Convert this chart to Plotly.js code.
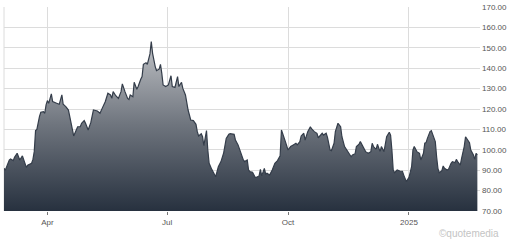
<!DOCTYPE html>
<html>
<head>
<meta charset="utf-8">
<script src="https://cdn.plot.ly/plotly-3.0.1.min.js"></script>
<style>
  html, body { margin: 0; padding: 0; background: #ffffff; }
  #chart { width: 507px; height: 240px; }
</style>
</head>
<body>
<div id="chart"></div>
<script>
const dates = [
  "2024-02-28","2024-02-29","2024-03-03","2024-03-04","2024-03-06","2024-03-07","2024-03-09","2024-03-10",
  "2024-03-11","2024-03-13","2024-03-14","2024-03-16","2024-03-17","2024-03-20","2024-03-21","2024-03-22",
  "2024-03-23","2024-03-24","2024-03-26","2024-03-27","2024-03-29","2024-03-30","2024-03-31","2024-04-01",
  "2024-04-02","2024-04-04","2024-04-05","2024-04-07","2024-04-08","2024-04-10","2024-04-12","2024-04-13",
  "2024-04-15","2024-04-17","2024-04-19","2024-04-21","2024-04-24","2024-04-26","2024-04-27","2024-04-29",
  "2024-04-30","2024-05-02","2024-05-04","2024-05-06","2024-05-09","2024-05-11","2024-05-13","2024-05-15",
  "2024-05-17","2024-05-19","2024-05-20","2024-05-21","2024-05-23","2024-05-25","2024-05-27","2024-05-28",
  "2024-05-30","2024-06-01","2024-06-02","2024-06-03","2024-06-05","2024-06-06","2024-06-08","2024-06-09",
  "2024-06-11","2024-06-12","2024-06-13","2024-06-15","2024-06-16","2024-06-18","2024-06-19","2024-06-20",
  "2024-06-22","2024-06-23","2024-06-25","2024-06-26","2024-06-27","2024-06-28","2024-06-30","2024-07-02",
  "2024-07-04","2024-07-05","2024-07-07","2024-07-09","2024-07-10","2024-07-12","2024-07-13","2024-07-15",
  "2024-07-17","2024-07-19","2024-07-21","2024-07-23","2024-07-24","2024-07-25","2024-07-27","2024-07-28",
  "2024-07-29","2024-07-31","2024-08-01","2024-08-02","2024-08-04","2024-08-07","2024-08-09","2024-08-11",
  "2024-08-13","2024-08-15","2024-08-17","2024-08-18","2024-08-21","2024-08-22","2024-08-24","2024-08-26",
  "2024-08-28","2024-08-29","2024-08-31","2024-09-01","2024-09-02","2024-09-04","2024-09-06","2024-09-07",
  "2024-09-09","2024-09-10","2024-09-11","2024-09-13","2024-09-14","2024-09-15","2024-09-17","2024-09-19",
  "2024-09-21","2024-09-23","2024-09-25","2024-09-26","2024-09-27","2024-09-29","2024-10-01","2024-10-03",
  "2024-10-05","2024-10-07","2024-10-08","2024-10-10","2024-10-11","2024-10-13","2024-10-14","2024-10-16",
  "2024-10-18","2024-10-19","2024-10-21","2024-10-23","2024-10-24","2024-10-26","2024-10-27","2024-10-28",
  "2024-10-30","2024-10-31","2024-11-02","2024-11-03","2024-11-05","2024-11-06","2024-11-08","2024-11-10",
  "2024-11-11","2024-11-13","2024-11-15","2024-11-16","2024-11-18","2024-11-19","2024-11-21","2024-11-22",
  "2024-11-24","2024-11-25","2024-11-27","2024-11-29","2024-12-01","2024-12-03","2024-12-04","2024-12-05",
  "2024-12-07","2024-12-08","2024-12-10","2024-12-11","2024-12-13","2024-12-15","2024-12-17","2024-12-18",
  "2024-12-19","2024-12-20","2024-12-21","2024-12-23","2024-12-25","2024-12-27","2024-12-28","2024-12-30",
  "2025-01-01","2025-01-03","2025-01-04","2025-01-05","2025-01-07","2025-01-09","2025-01-10","2025-01-12",
  "2025-01-13","2025-01-14","2025-01-15","2025-01-17","2025-01-18","2025-01-19","2025-01-21","2025-01-22",
  "2025-01-23","2025-01-24","2025-01-26","2025-01-27","2025-01-28","2025-01-30","2025-01-31","2025-02-02",
  "2025-02-03","2025-02-05","2025-02-06","2025-02-07","2025-02-09","2025-02-10","2025-02-12","2025-02-13",
  "2025-02-15","2025-02-16","2025-02-17","2025-02-19","2025-02-20","2025-02-21","2025-02-22"
];

const prices = [
  90.9, 90.0, 95.0, 95.5, 94.7, 96.3, 98.3, 96.1,
  95.0, 97.0, 95.0, 91.4, 92.5, 93.4, 95.3, 99.1,
  109.4, 110.0, 116.4, 118.4, 118.7, 117.9, 122.0, 124.1,
  122.8, 127.4, 123.6, 123.3, 122.8, 122.3, 126.9, 122.3,
  121.2, 119.5, 113.0, 106.8, 111.3, 111.3, 113.0, 114.3,
  113.0, 109.7, 113.3, 119.5, 119.0, 117.9, 120.8, 123.6,
  127.7, 126.9, 125.2, 128.5, 126.5, 125.2, 128.5, 132.3,
  128.5, 125.2, 124.7, 126.9, 126.0, 133.1, 129.7, 131.0,
  134.6, 135.9, 141.9, 142.7, 141.9, 147.0, 153.0, 147.3,
  140.8, 138.8, 139.5, 141.9, 137.5, 131.8, 131.0, 131.8,
  136.3, 131.0, 130.6, 135.9, 131.0, 133.1, 130.1, 126.9,
  119.5, 114.6, 114.3, 112.5, 108.9, 106.8, 107.9, 106.4,
  102.0, 109.4, 99.9, 93.4, 90.4, 86.8, 91.7, 94.2,
  98.3, 105.6, 107.6, 107.9, 107.6, 104.8, 102.4, 98.3,
  95.0, 94.2, 95.0, 90.1, 89.3, 89.0, 86.5, 86.5,
  87.2, 90.4, 87.2, 90.9, 88.1, 88.5, 87.6, 90.1,
  93.4, 94.7, 97.1, 109.7, 108.1, 104.0, 99.9, 101.6,
  102.4, 103.2, 102.4, 104.0, 106.8, 108.1, 104.8, 108.9,
  111.3, 110.2, 108.9, 108.1, 105.9, 107.2, 108.1, 107.2,
  108.1, 106.1, 99.9, 99.6, 103.2, 108.9, 113.0, 111.3,
  106.4, 101.6, 99.6, 98.3, 96.6, 97.5, 98.0, 101.6,
  102.8, 104.0, 101.6, 99.1, 98.3, 99.1, 103.2, 101.6,
  100.2, 102.7, 99.1, 101.6, 99.1, 106.4, 108.6, 107.2,
  99.9, 90.1, 88.8, 90.1, 89.6, 89.5, 87.6, 84.4,
  86.5, 91.7, 99.9, 101.6, 99.1, 98.3, 95.0, 98.3,
  103.2, 103.5, 105.6, 108.9, 109.4, 107.2, 104.0, 96.6,
  90.9, 88.8, 89.8, 92.1, 90.9, 90.1, 90.4, 93.4,
  94.2, 93.7, 95.3, 94.2, 92.5, 95.8, 101.6, 106.4,
  104.8, 103.5, 99.9, 97.5, 95.3, 98.3, 97.5
];

const xTickDates = ["2024-04-01", "2024-07-01", "2024-10-01", "2025-01-01"];
const xTickLabels = ["Apr", "Jul", "Oct", "2025"];
const yTickValues = [70, 80, 90, 100, 110, 120, 130, 140, 150, 160, 170];

const trace = {
  type: "scatter",
  mode: "lines",
  x: dates,
  y: prices,
  line: { color: "#343d4a", width: 1.2 },
  fill: "tozeroy",
  fillgradient: {
    type: "vertical",
    start: 70,
    stop: 155,
    colorscale: [[0, "#27313f"], [0.5, "#6f757e"], [1, "#c3c5c9"]]
  },
  hoverinfo: "skip"
};

const layout = {
  width: 507,
  height: 240,
  margin: { l: 4, r: 27, t: 7, b: 29, pad: 0 },
  paper_bgcolor: "#ffffff",
  plot_bgcolor: "#ffffff",
  showlegend: false,
  font: { family: "Liberation Sans, Arial, sans-serif", size: 8, color: "#555555" },
  xaxis: {
    type: "date",
    range: ["2024-02-28", "2025-02-24"],
    tickmode: "array",
    tickvals: xTickDates,
    ticktext: xTickLabels,
    showgrid: true,
    gridcolor: "#dcdcdc",
    gridwidth: 1,
    ticks: "outside",
    ticklen: 3,
    tickcolor: "#777777",
    tickfont: { size: 8, color: "#555555" },
    showline: false,
    zeroline: false,
    fixedrange: true
  },
  yaxis: {
    side: "right",
    range: [70, 170],
    tickmode: "array",
    tickvals: yTickValues,
    tickformat: ".2f",
    showgrid: true,
    gridcolor: "#dcdcdc",
    gridwidth: 1,
    ticks: "",
    ticklabelstandoff: 1,
    tickfont: { size: 8, color: "#555555" },
    showline: false,
    zeroline: false,
    fixedrange: true
  },
  shapes: [
    { type: "line", xref: "paper", yref: "paper", x0: 0, x1: 0, y0: 0, y1: 1,
      line: { color: "#dcdcdc", width: 1 }, layer: "below" }
  ],
  annotations: [
    {
      text: "©quotemedia",
      xref: "paper", yref: "paper",
      x: 1.044, y: -0.108,
      xanchor: "right", yanchor: "middle",
      showarrow: false,
      font: { family: "Liberation Sans, Arial, sans-serif", size: 10, color: "#c4c4c4" }
    }
  ]
};

Plotly.newPlot("chart", [trace], layout, { staticPlot: true, displayModeBar: false });
</script>
</body>
</html>
